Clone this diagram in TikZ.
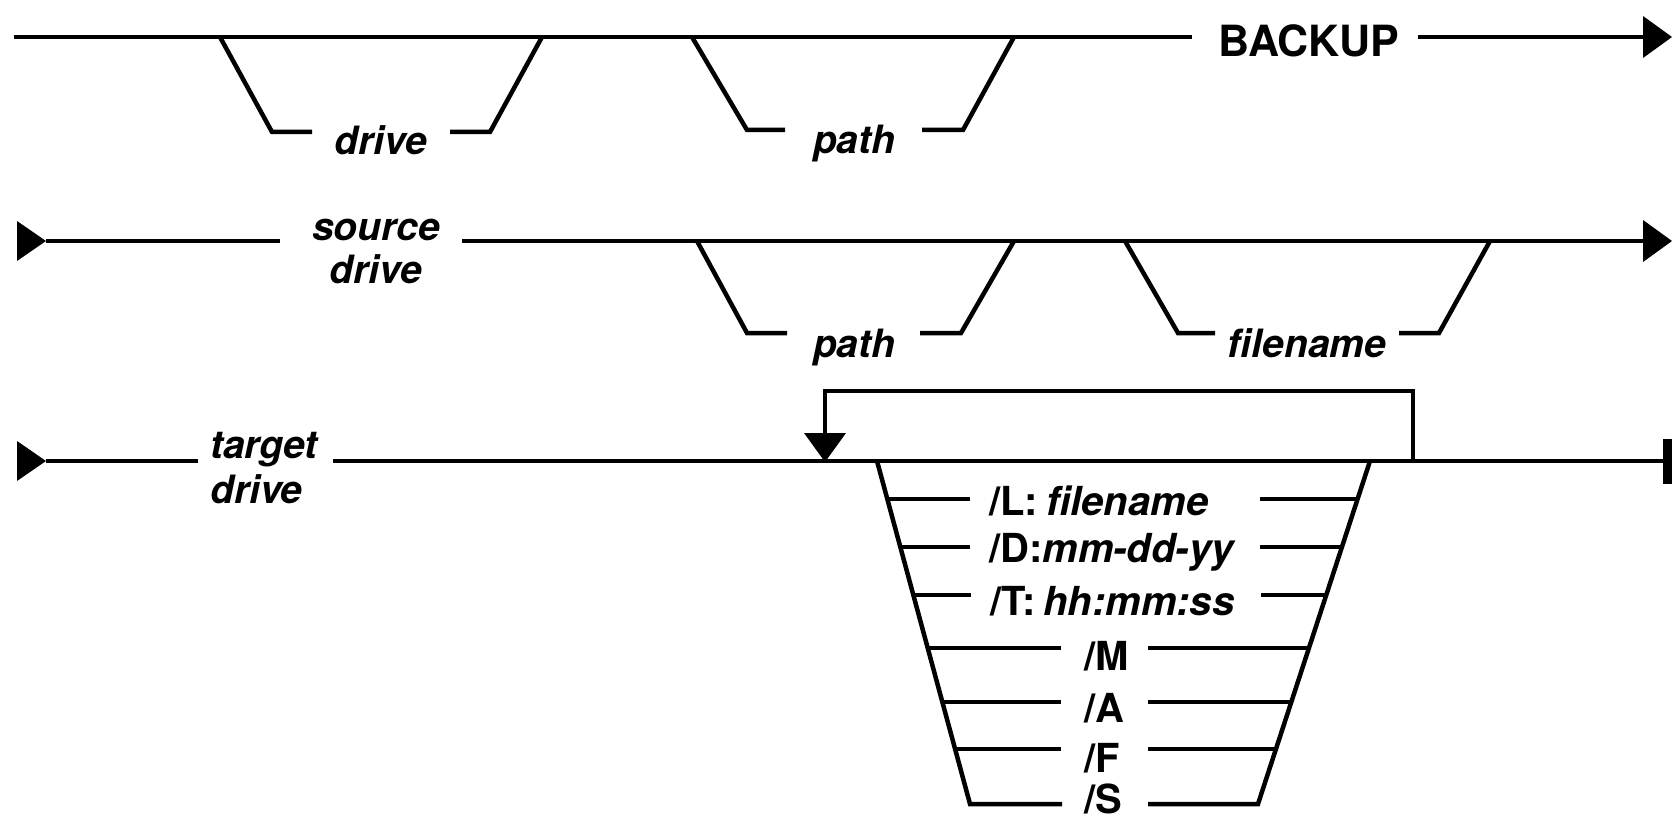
\documentclass[tikz,border=0pt]{standalone}
\usepackage{fontspec}
\setmainfont{TeX Gyre Heros}
\begin{document}
\begin{tikzpicture}[x=1pt,y=-1pt,
  rail/.style={line width=4.5pt, line cap=butt, line join=miter},
  kw/.style={font=\fontsize{43}{48}\selectfont\bfseries, inner sep=0pt, anchor=base},
  var/.style={font=\fontsize{39}{45}\selectfont\bfseries\itshape, inner sep=0pt, anchor=base},
  opt/.style={font=\fontsize{40}{46}\selectfont\bfseries, inner sep=0pt, anchor=base west},
  head/.style={fill=black}
]
\useasboundingbox (0,0) rectangle (1674,824);

% ---------- first line: BACKUP [drive] [path]
\coordinate (s1)  at (14,37);
\coordinate (b1l) at (1192,37);
\coordinate (b1r) at (1418,37);
\coordinate (e1)  at (1646,37);
\node[kw] (backup) at (1309,57) {BACKUP};
\draw[rail] (s1) -- (b1l);
\draw[rail] (b1r) -- (e1);
\coordinate (t1a) at (1643,16);
\coordinate (t1b) at (1672,37);
\coordinate (t1c) at (1643,58);
\fill[head] (t1a) -- (t1b) -- (t1c) -- cycle;

% optional drive
\coordinate (dv1a) at (220,37);
\coordinate (dv1b) at (272,132);
\coordinate (dv1c) at (312,132);
\coordinate (dv1d) at (450,132);
\coordinate (dv1e) at (490,132);
\coordinate (dv1f) at (542,37);
\node[var] (drive1) at (381,155) {drive};
\draw[rail] (dv1a) -- (dv1b) -- (dv1c);
\draw[rail] (dv1d) -- (dv1e) -- (dv1f);

% optional path
\coordinate (pt1a) at (692,37);
\coordinate (pt1b) at (747,130);
\coordinate (pt1c) at (785,130);
\coordinate (pt1d) at (922,130);
\coordinate (pt1e) at (963,130);
\coordinate (pt1f) at (1014,37);
\node[var] (path1) at (854,154) {path};
\draw[rail] (pt1a) -- (pt1b) -- (pt1c);
\draw[rail] (pt1d) -- (pt1e) -- (pt1f);

% ---------- second line: source drive [path] [filename]
\coordinate (st2a) at (17,221);
\coordinate (st2b) at (46,241);
\coordinate (st2c) at (17,261);
\fill[head] (st2a) -- (st2b) -- (st2c) -- cycle;
\coordinate (s2l) at (280,241);
\coordinate (s2r) at (462,241);
\coordinate (e2)  at (1646,241);
\node[var] (source) at (376,240) {source};
\node[var] (sdrive) at (376,283) {drive};
\draw[rail] (st2b) -- (s2l);
\draw[rail] (s2r) -- (e2);
\coordinate (t2a) at (1643,220);
\coordinate (t2b) at (1672,241);
\coordinate (t2c) at (1643,262);
\fill[head] (t2a) -- (t2b) -- (t2c) -- cycle;

\coordinate (pt2a) at (697,241);
\coordinate (pt2b) at (747,333);
\coordinate (pt2c) at (787,333);
\coordinate (pt2d) at (920,333);
\coordinate (pt2e) at (961,333);
\coordinate (pt2f) at (1014,241);
\node[var] (path2) at (854,357) {path};
\draw[rail] (pt2a) -- (pt2b) -- (pt2c);
\draw[rail] (pt2d) -- (pt2e) -- (pt2f);

\coordinate (fn2a) at (1125,241);
\coordinate (fn2b) at (1178,333);
\coordinate (fn2c) at (1215,333);
\coordinate (fn2d) at (1399,333);
\coordinate (fn2e) at (1439,333);
\coordinate (fn2f) at (1490,241);
\node[var] (fname) at (1307,357) {filename};
\draw[rail] (fn2a) -- (fn2b) -- (fn2c);
\draw[rail] (fn2d) -- (fn2e) -- (fn2f);

% ---------- third line: target drive, repeatable switches
\coordinate (st3a) at (17,441);
\coordinate (st3b) at (46,461);
\coordinate (st3c) at (17,481);
\fill[head] (st3a) -- (st3b) -- (st3c) -- cycle;
\coordinate (s3l) at (198,461);
\coordinate (s3r) at (333,461);
\coordinate (e3)  at (1664,461);
\node[var, anchor=base west] (target) at (210,458) {target};
\node[var, anchor=base west] (tdrive) at (210,503) {drive};
\draw[rail] (st3b) -- (s3l);
\draw[rail] (s3r) -- (e3);
\fill[head] (1663,439) rectangle (1672,484);

% repeat loop
\coordinate (lpr) at (1413,461);
\coordinate (lprt) at (1413,391);
\coordinate (lplt) at (825,391);
\coordinate (lpl) at (825,435);
\draw[rail] (lpr) -- (lprt) -- (lplt) -- (lpl);
\coordinate (ah1) at (804,433);
\coordinate (ah2) at (846,433);
\coordinate (ah3) at (825,462);
\fill[head] (ah1) -- (ah2) -- (ah3) -- cycle;

% switch stack
\coordinate (tl) at (877,461);
\coordinate (bl) at (970,804);
\coordinate (br) at (1258,804);
\coordinate (tr) at (1370,461);
\coordinate (sSl) at (1062,804);
\coordinate (sSr) at (1148,804);
\draw[rail] (tl) -- (bl) -- (sSl);
\draw[rail] (sSr) -- (br) -- (tr);
\node[opt] (optS) at (1084,813) {/S};

% /L
\coordinate (L1) at (887,499);  \coordinate (L2) at (970,499);
\coordinate (L3) at (1260,499); \coordinate (L4) at (1359,499);
\node[opt] (optL) at (989,515) {/L:\hspace{0.2em}\textit{filename}};
\draw[rail] (L1) -- (L2); \draw[rail] (L3) -- (L4);
% /D
\coordinate (D1) at (900,547);  \coordinate (D2) at (970,547);
\coordinate (D3) at (1260,547); \coordinate (D4) at (1343,547);
\node[opt] (optD) at (989,562) {/D:\textit{mm-dd-yy}};
\draw[rail] (D1) -- (D2); \draw[rail] (D3) -- (D4);
% /T
\coordinate (T1) at (913,595);  \coordinate (T2) at (971,595);
\coordinate (T3) at (1261,595); \coordinate (T4) at (1327,595);
\node[opt] (optT) at (990,615) {/T:\hspace{0.2em}\textit{hh:mm:ss}};
\draw[rail] (T1) -- (T2); \draw[rail] (T3) -- (T4);
% /M
\coordinate (M1) at (927,648);  \coordinate (M2) at (1061,648);
\coordinate (M3) at (1148,648); \coordinate (M4) at (1309,648);
\node[opt] (optM) at (1084,670) {/M};
\draw[rail] (M1) -- (M2); \draw[rail] (M3) -- (M4);
% /A
\coordinate (A1) at (942,702);  \coordinate (A2) at (1061,702);
\coordinate (A3) at (1148,702); \coordinate (A4) at (1291,702);
\node[opt] (optA) at (1084,722) {/A};
\draw[rail] (A1) -- (A2); \draw[rail] (A3) -- (A4);
% /F
\coordinate (F1) at (955,749);  \coordinate (F2) at (1061,749);
\coordinate (F3) at (1148,749); \coordinate (F4) at (1276,749);
\node[opt] (optF) at (1084,772) {/F};
\draw[rail] (F1) -- (F2); \draw[rail] (F3) -- (F4);
\end{tikzpicture}
\end{document}
